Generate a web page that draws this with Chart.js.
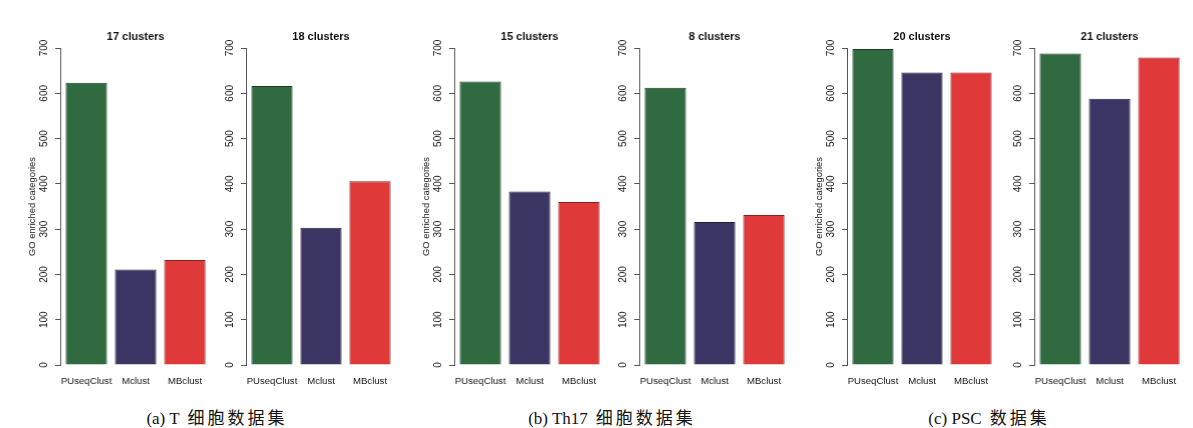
<!DOCTYPE html>
<html>
<head>
<meta charset="utf-8">
<script src="https://cdn.jsdelivr.net/npm/chart.js@4/dist/chart.umd.min.js"></script>
<style>
  html, body { margin: 0; padding: 0; background: #ffffff; }
  #wrap { position: relative; width: 1193px; height: 428px; overflow: hidden; background: #ffffff; }
  canvas.panel { position: absolute; top: 0; }
  .caption {
    position: absolute; top: 405px; transform: translateX(-50%);
    font-family: "Liberation Serif", "Noto Sans CJK SC", serif; font-size: 17px;
    color: #111111; white-space: nowrap; line-height: 24px;
  }
  .caption .zh { font-family: "Noto Sans CJK SC", sans-serif; font-size: 17px; letter-spacing: 3px; margin-left: 8px; }
</style>
</head>
<body>
<div id="wrap"></div>
<script>
// Methods compared in every panel
const categories = ['PUseqClust', 'Mclust', 'MBclust'];

// Panel titles (number of clusters used)
const panelTitles = ['17 clusters', '18 clusters', '15 clusters', '8 clusters', '20 clusters', '21 clusters'];

// GO enriched categories found by each method, one entry per panel
const puseqclust = [623, 616, 626, 612, 698, 688];
const mclust     = [211, 303, 383, 316, 646, 588];
const mbclust    = [232, 406, 360, 331, 646, 679];

// Y axis ticks
const yTicks = [0, 100, 200, 300, 400, 500, 600, 700];
const yTitle = 'GO enriched categories';

// Captions under each dataset group
const captionLatin = ['(a) T', '(b) Th17', '(c) PSC'];
const captionZh = ['细胞数据集', '细胞数据集', '数据集'];

// Layout
const axisX = [60, 245.7, 454.3, 639, 846.7, 1034];
const showYTitle = [true, false, true, false, true, false];
const captionCenters = [217, 612, 989];
const Y_SCALE_W = 45;
const PLOT_W = 150.6;
const RIGHT_PAD = 4;
const barColors = ['#2f6a41', '#3b3563', '#e0393a'];
const barBorders = ['#1e3f27', '#25213d', '#8a2222'];

const wrap = document.getElementById('wrap');

for (let p = 0; p < panelTitles.length; p++) {
  const cv = document.createElement('canvas');
  cv.className = 'panel';
  const w = Y_SCALE_W + PLOT_W + RIGHT_PAD;
  cv.width = w; cv.height = 400;
  cv.style.width = w + 'px'; cv.style.height = '400px';
  cv.style.left = (axisX[p] - Y_SCALE_W) + 'px';
  wrap.appendChild(cv);

  const values = [puseqclust[p], mclust[p], mbclust[p]];

  new Chart(cv.getContext('2d'), {
    type: 'bar',
    data: {
      datasets: [{
        data: values.map((v, i) => ({ x: i + 1, y: v })),
        backgroundColor: barColors,
        borderColor: barBorders,
        borderWidth: 1,
        barPercentage: 0.84,
        categoryPercentage: 1
      }]
    },
    options: {
      responsive: false,
      devicePixelRatio: 1,
      animation: false,
      layout: { padding: { left: 0, right: RIGHT_PAD, top: 0, bottom: 0 } },
      plugins: {
        legend: { display: false },
        tooltip: { enabled: false },
        title: {
          display: true,
          text: panelTitles[p],
          fullSize: false,
          color: '#111111',
          font: { family: 'Liberation Sans', size: 11, weight: 'bold' },
          padding: { top: 30.1, bottom: 4.7 }
        }
      },
      scales: {
        x: {
          type: 'linear',
          min: 0.47,
          max: 3.53,
          offset: false,
          grid: { display: false, drawTicks: false },
          border: { display: false },
          afterBuildTicks: (s) => { s.ticks = categories.map((c, i) => ({ value: i + 1 })); },
          afterFit: (s) => { s.height = 35; },
          ticks: {
            autoSkip: false,
            minRotation: 0,
            maxRotation: 0,
            padding: 11,
            color: '#151515',
            font: { family: 'Liberation Sans', size: 9.6 },
            callback: (v) => categories[Math.round(v) - 1]
          }
        },
        y: {
          min: 0,
          max: 700,
          afterBuildTicks: (s) => { s.ticks = yTicks.map(v => ({ value: v })); },
          afterFit: (s) => { s.width = Y_SCALE_W; },
          grid: { drawOnChartArea: false, drawTicks: true, tickLength: 5, tickColor: '#555555', tickWidth: 1 },
          border: { display: true, color: '#555555', width: 1 },
          ticks: {
            minRotation: 90,
            maxRotation: 90,
            crossAlign: 'center',
            padding: 2.5,
            color: '#151515',
            font: { family: 'Liberation Sans', size: 10 }
          },
          title: {
            display: showYTitle[p],
            text: yTitle,
            color: '#151515',
            font: { family: 'Liberation Sans', size: 9.4 },
            padding: { top: 11.5, bottom: 0 }
          }
        }
      }
    }
  });
}

for (let c = 0; c < captionLatin.length; c++) {
  const d = document.createElement('div');
  d.className = 'caption';
  d.style.left = captionCenters[c] + 'px';
  const a = document.createElement('span');
  a.textContent = captionLatin[c];
  const z = document.createElement('span');
  z.className = 'zh';
  z.textContent = captionZh[c];
  d.appendChild(a); d.appendChild(z);
  wrap.appendChild(d);
}
</script>
</body>
</html>
